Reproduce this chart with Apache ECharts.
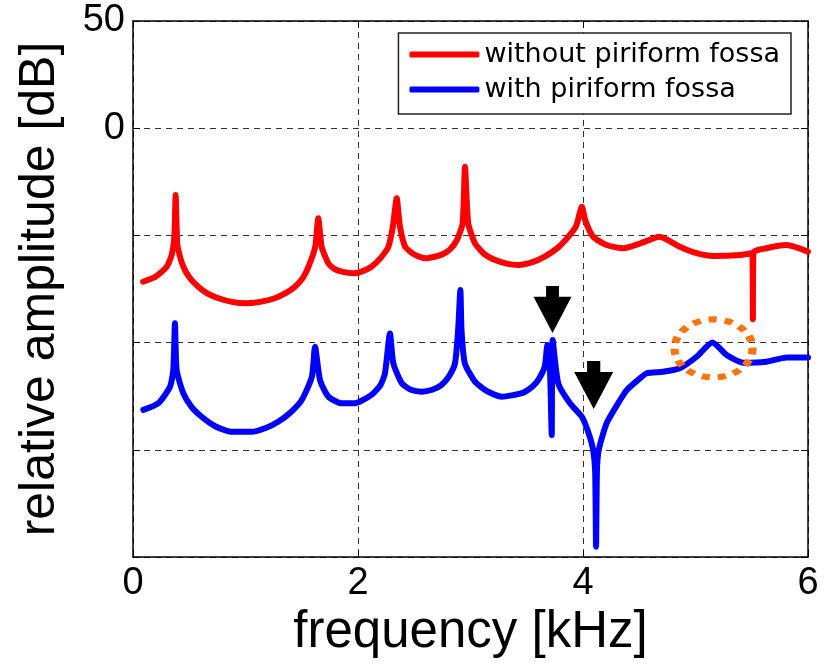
<!DOCTYPE html>
<html>
<head>
<meta charset="utf-8">
<script src="https://cdn.jsdelivr.net/npm/echarts@6/dist/echarts.min.js"></script>
<style>
html,body{margin:0;padding:0;background:#fff;}
#chart{width:831px;height:668px;}
</style>
</head>
<body>
<div id="chart"></div>
<script>
// ---- data (frequency in kHz, amplitude in dB) ----
var seriesNames = ['without piriform fossa', 'with piriform fossa'];
var xTicks = [0, 2, 4, 6];
var yTicks = [50, 0];

var redFreq = [0.09, 0.20, 0.30, 0.344, 0.368, 0.379, 0.39, 0.397, 0.447, 0.507, 0.58, 0.66, 0.76, 0.88, 1.0, 1.13, 1.26, 1.36, 1.44, 1.51, 1.56, 1.62, 1.647, 1.677, 1.736, 1.79, 1.855, 1.96, 2.03, 2.12, 2.20, 2.27, 2.31, 2.344, 2.373, 2.42, 2.5, 2.6, 2.74, 2.82, 2.88, 2.93, 2.951, 2.98, 3.04, 3.12, 3.22, 3.33, 3.425, 3.55, 3.66, 3.78, 3.87, 3.94, 3.99, 4.02, 4.09, 4.21, 4.36, 4.51, 4.68, 4.86, 5.01, 5.16, 5.40, 5.505, 5.51, 5.515, 5.63, 5.81, 6.0];
var redDb   = [-71.6, -69.3, -64.6, -59.1, -50, -31.2, -50, -55.3, -64.6, -70.0, -73.9, -77.0, -79.3, -81.0, -81.7, -81.0, -79.3, -76.8, -73.9, -69.8, -64.6, -55.3, -42.0, -55.3, -63.0, -65.6, -66.9, -67.7, -66.9, -64.6, -60.6, -55.3, -45.9, -32.7, -45.9, -55.3, -58.9, -60.7, -59.1, -56.4, -52.1, -44.4, -18.0, -44.4, -53.7, -58.6, -61.5, -63.3, -63.8, -62.5, -59.9, -55.6, -50.6, -45.5, -36.6, -43.0, -50.6, -54.5, -56.0, -53.7, -50.6, -55.3, -58.3, -59.6, -59.1, -58.2, -89.1, -58.0, -56.0, -54.5, -57.6];

var blueFreq = [0.092, 0.225, 0.329, 0.358, 0.373, 0.388, 0.447, 0.52, 0.61, 0.73, 0.877, 1.055, 1.18, 1.29, 1.40, 1.5, 1.59, 1.618, 1.662, 1.736, 1.855, 1.97, 2.12, 2.20, 2.24, 2.284, 2.314, 2.39, 2.47, 2.566, 2.66, 2.74, 2.81, 2.862, 2.89, 2.91, 2.92, 2.95, 3.04, 3.15, 3.277, 3.455, 3.55, 3.603, 3.66, 3.683, 3.705, 3.722, 3.73, 3.78, 3.884, 3.99, 4.05, 4.09, 4.108, 4.116, 4.124, 4.14, 4.21, 4.33, 4.39, 4.49, 4.566, 4.71, 4.86, 5.01, 5.15, 5.277, 5.425, 5.63, 5.81, 6.0];
var blueDb   = [-131.4, -128.3, -120.6, -112.8, -91.0, -112.8, -123.6, -130.0, -134.6, -139.0, -141.6, -141.6, -139.8, -136.9, -132.6, -126.8, -115.9, -101.9, -117.4, -125.2, -128.3, -128.3, -124.4, -119.8, -114.3, -95.7, -109.7, -119.0, -122.0, -122.9, -122.0, -119.8, -115.6, -109.7, -94.1, -75.5, -94.1, -109.7, -118.2, -122.8, -125.2, -123.6, -120.5, -117.4, -111.2, -101.1, -110.0, -143.1, -98.8, -119.0, -128.3, -134.6, -142.3, -150.1, -160.0, -195.2, -160.0, -150.1, -137.6, -126.8, -122.1, -117.4, -114.3, -113.6, -112.0, -106.6, -100.0, -105.8, -109.4, -108.9, -106.9, -106.9];

// annotations (data-space positions)
var arrowPoints = [[3.729, -84.6], [4.095, -119.8]];
var circlePoint = [5.16, -102.7];

function pairs(xs, ys) { return xs.map(function (x, i) { return [x, ys[i]]; }); }

var chart = echarts.init(document.getElementById('chart'), null, { renderer: 'canvas' });

var gridLine = { show: true, lineStyle: { color: '#333', width: 1, type: [6, 5] } };
var tickFont = { fontFamily: 'Liberation Sans', fontSize: 38, color: '#000' };
var arrowPath = 'path://M12.7,0 L25.7,0 L25.7,10.7 L38.4,10.7 L19.2,47 L0,10.7 L12.7,10.7 Z';

var option = {
  animation: false,
  backgroundColor: '#fff',
  grid: { left: 133, right: 23, top: 21, bottom: 111, containLabel: false },
  legend: {
    orient: 'vertical',
    right: 40, top: 33,
    data: seriesNames,
    icon: 'roundRect',
    itemWidth: 70, itemHeight: 6,
    itemGap: 8,
    padding: [8, 11, 11, 11],
    borderColor: '#222', borderWidth: 1.5,
    backgroundColor: '#fff',
    textStyle: { fontFamily: 'DejaVu Sans', fontSize: 27, color: '#000' },
    selectedMode: false
  },
  xAxis: [{
    type: 'value', min: 0, max: 6, interval: 2,
    axisLine: { show: true, onZero: false, lineStyle: { color: '#000', width: 1.5 } },
    axisTick: { show: true, inside: true, length: 7, lineStyle: { color: '#000' } },
    axisLabel: Object.assign({ margin: 8, formatter: function (v) { return xTicks.indexOf(v) >= 0 ? String(v) : ''; } }, tickFont),
    splitLine: gridLine,
    name: 'frequency [kHz]', nameLocation: 'middle', nameGap: 50,
    nameTextStyle: { fontFamily: 'Liberation Sans', fontSize: 51, color: '#000' }
  }, {
    type: 'value', min: 0, max: 6, interval: 2, position: 'top',
    axisLine: { show: true, onZero: false, lineStyle: { color: '#000', width: 1.5 } },
    axisTick: { show: true, inside: true, length: 7, lineStyle: { color: '#000' } },
    axisLabel: { show: false }, splitLine: { show: false }
  }],
  yAxis: [{
    type: 'value', min: -200, max: 50, interval: 50,
    axisLine: { show: true, onZero: false, lineStyle: { color: '#000', width: 1.5 } },
    axisTick: { show: true, inside: true, length: 7, lineStyle: { color: '#000' } },
    axisLabel: Object.assign({ margin: 8, formatter: function (v) { return yTicks.indexOf(v) >= 0 ? String(v) : ''; } }, tickFont),
    splitLine: gridLine,
    name: 'relative amplitude [dB]', nameLocation: 'middle', nameGap: 68,
    nameTextStyle: { fontFamily: 'Liberation Sans', fontSize: 50, color: '#000' }
  }, {
    type: 'value', min: -200, max: 50, interval: 50, position: 'right',
    axisLine: { show: true, onZero: false, lineStyle: { color: '#000', width: 1.5 } },
    axisTick: { show: true, inside: true, length: 7, lineStyle: { color: '#000' } },
    axisLabel: { show: false }, splitLine: { show: false }
  }],
  series: [{
    name: seriesNames[0], type: 'line',
    data: pairs(redFreq, redDb),
    showSymbol: false, symbol: 'none',
    smooth: 0.2,
    color: '#ff0000',
    lineStyle: { color: '#ff0000', width: 6, cap: 'round', join: 'round' },
    z: 3
  }, {
    name: seriesNames[1], type: 'line',
    data: pairs(blueFreq, blueDb),
    showSymbol: false, symbol: 'none',
    smooth: 0.2,
    color: '#0000ff',
    lineStyle: { color: '#0000ff', width: 6, cap: 'round', join: 'round' },
    z: 4,
    markPoint: {
      silent: true,
      label: { show: false },
      data: [
        { coord: arrowPoints[0], symbol: arrowPath, symbolSize: [38, 47], itemStyle: { color: '#000' } },
        { coord: arrowPoints[1], symbol: arrowPath, symbolSize: [39, 48], itemStyle: { color: '#000' } },
        { coord: circlePoint, symbol: 'circle', symbolSize: [78, 58],
          itemStyle: { color: 'rgba(0,0,0,0)', borderColor: '#ff730a', borderWidth: 7, borderType: [7, 7] } }
      ]
    }
  }]
};
chart.setOption(option);
</script>
</body>
</html>
